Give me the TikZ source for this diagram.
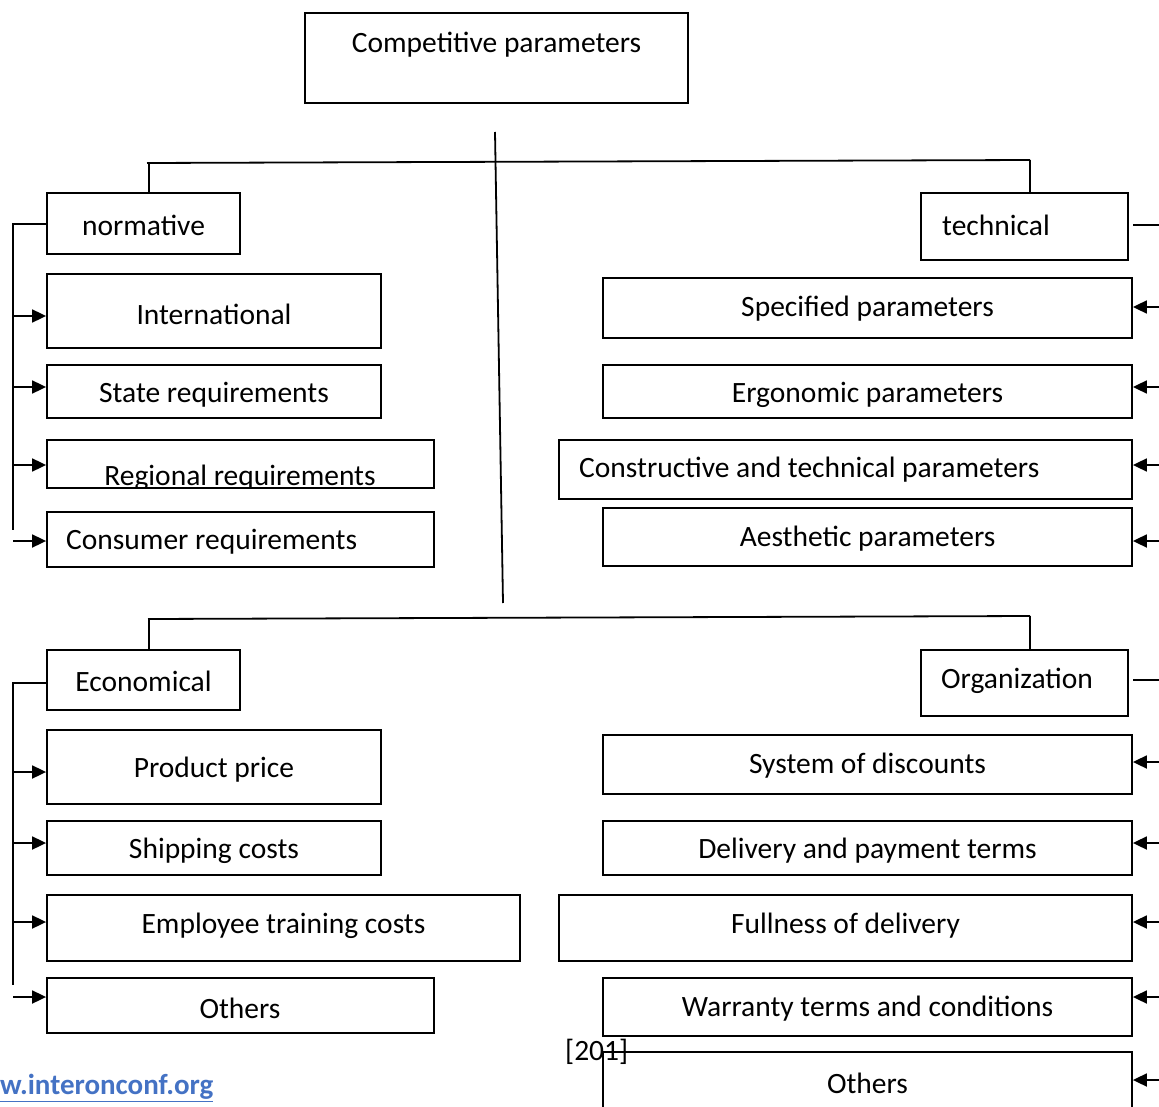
\documentclass[tikz,border=0pt]{standalone}
\usepackage{fontspec}
\setmainfont{Carlito}
\usetikzlibrary{arrows.meta}
\definecolor{linkblue}{HTML}{4472C4}
\newcommand{\mkbox}[5]{\node[bx,minimum width={#4-#2},minimum height={#5-#3}] (#1) at ({(#2+#4)/2},{(#3+#5)/2}) {};}
\begin{document}
\begin{tikzpicture}[x=1pt,y=-1pt,
  bx/.style={draw,line width=1.8pt,inner sep=0pt},
  txt/.style={inner sep=0pt,yshift=-2pt,font=\fontsize{29.5}{33}\selectfont},
  ln/.style={line width=1.8pt},
  arr/.style={line width=1.8pt,-{Triangle[length=14pt,width=13pt]}}]
\useasboundingbox (0,0) rectangle (1159,1107);
% boxes
\mkbox{top}{305}{13}{688}{103}
\node[txt] (top-t) at (496.5,43) {Competitive parameters};
\mkbox{norm}{47}{193}{240}{254}
\node[txt] (norm-t) at (143.5,223) {normative};
\mkbox{tech}{921}{193}{1128}{260}
\node[txt,anchor=west] (tech-t) at (942,223) {technical};
\mkbox{intl}{47}{274}{381}{348}
\node[txt] (intl-t) at (214,312) {International};
\mkbox{state}{47}{365}{381}{418}
\node[txt] (state-t) at (214,393) {State requirements};
\mkbox{reg}{47}{440}{434}{488}
\begin{scope}
\clip (reg.north west) rectangle (reg.south east);
\node[txt,anchor=base] (reg-t) at (240,483) {Regional requirements};
\end{scope}
\mkbox{cons}{47}{512}{434}{567}
\node[txt,anchor=west] (cons-t) at (66,540) {Consumer requirements};
\mkbox{spec}{603}{278}{1132}{338}
\node[txt] (spec-t) at (867.5,307) {Specified parameters};
\mkbox{ergo}{603}{365}{1132}{418}
\node[txt] (ergo-t) at (867.5,393) {Ergonomic parameters};
\mkbox{constr}{559}{440}{1132}{499}
\node[txt,anchor=west] (constr-t) at (579,468) {Constructive and technical parameters};
\mkbox{aest}{603}{508}{1132}{566}
\node[txt] (aest-t) at (867.5,537) {Aesthetic parameters};
\mkbox{econ}{47}{650}{240}{710}
\node[txt] (econ-t) at (143.5,679) {Economical};
\mkbox{org}{921}{650}{1128}{716}
\node[txt,anchor=west] (org-t) at (941,679) {Organization};
\mkbox{price}{47}{730}{381}{804}
\node[txt] (price-t) at (214,768) {Product price};
\mkbox{ship}{47}{821}{381}{875}
\node[txt] (ship-t) at (214,849) {Shipping costs};
\mkbox{train}{47}{895}{520}{961}
\node[txt] (train-t) at (283.5,924) {Employee training costs};
\mkbox{othl}{47}{978}{434}{1033}
\node[txt] (othl-t) at (240,1006) {Others};
\mkbox{disc}{603}{735}{1132}{794}
\node[txt] (disc-t) at (867.5,764) {System of discounts};
\mkbox{deliv}{603}{821}{1132}{875}
\node[txt] (deliv-t) at (867.5,849) {Delivery and payment terms};
\mkbox{full}{559}{895}{1132}{961}
\node[txt] (full-t) at (845.5,924) {Fullness of delivery};
\mkbox{warr}{603}{978}{1132}{1036}
\node[txt] (warr-t) at (867.5,1007) {Warranty terms and conditions};
\mkbox{othr}{603}{1052}{1132}{1125}
\node[txt] (othr-t) at (867.5,1081) {Others};
% trunk
\coordinate (trA) at (495,132);
\coordinate (trB) at (503,603);
\draw[ln] (trA) -- (trB);
% upper bar
\coordinate (h1L) at (147,163);
\coordinate (h1R) at (1030,160);
\draw[ln] (h1L) -- (h1R);
\draw[ln] (149,163) -- (149,193);
\draw[ln] (h1R) -- (1030,193);
% lower bar
\coordinate (h2L) at (148,619);
\coordinate (h2R) at (1030,616);
\draw[ln] (h2L) -- (h2R);
\draw[ln] (149,619) -- (149,650);
\draw[ln] (h2R) -- (1030,650);
% left bus upper
\coordinate (lb1) at (13,224);
\coordinate (lb1e) at (13,530);
\draw[ln] (norm.west |- lb1) -- (lb1) -- (lb1e);
\foreach \y/\n in {316/intl,387/state,465/reg,541/cons}{
  \coordinate (a-\n) at (13,\y);
  \draw[arr] (a-\n) -- (a-\n -| \n.west);
}
% right upper
\coordinate (rb1) at (1159,225);
\draw[ln] (1133,225) -- (rb1);
\foreach \y/\n in {307/spec,387/ergo,465/constr,541/aest}{
  \coordinate (b-\n) at (1159,\y);
  \draw[arr] (b-\n) -- (b-\n -| \n.east);
}
% left bus lower
\coordinate (lb2) at (13,683);
\coordinate (lb2e) at (13,985);
\draw[ln] (econ.west |- lb2) -- (lb2) -- (lb2e);
\foreach \y/\n in {772/price,843/ship,922/train,997/othl}{
  \coordinate (a-\n) at (13,\y);
  \draw[arr] (a-\n) -- (a-\n -| \n.west);
}
% right lower
\coordinate (rb2) at (1159,680);
\draw[ln] (1133,680) -- (rb2);
\foreach \y/\n in {762/disc,843/deliv,922/full,997/warr,1080/othr}{
  \coordinate (b-\n) at (1159,\y);
  \draw[arr] (b-\n) -- (b-\n -| \n.east);
}
% footer texts
\node[txt,anchor=west] (ref) at (565,1050) {[201]};
\node[txt,anchor=west,text=linkblue,font=\fontsize{29}{33}\selectfont\bfseries] (link) at (0,1086) {\underline{w.interonconf.org}};
\end{tikzpicture}
\end{document}
